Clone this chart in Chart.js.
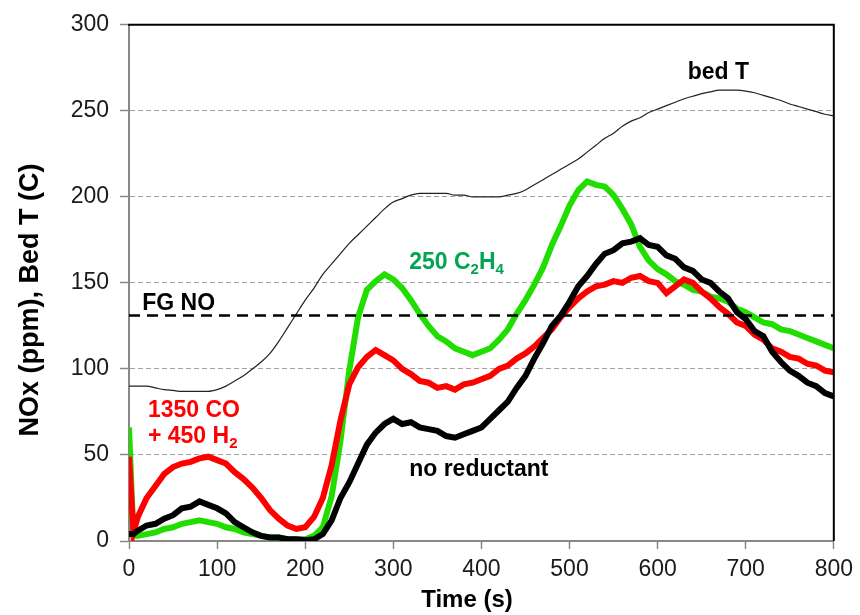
<!DOCTYPE html>
<html>
<head>
<meta charset="utf-8">
<script src="https://cdn.jsdelivr.net/npm/chart.js@4/dist/chart.umd.min.js"></script>
<style>
html,body{margin:0;padding:0;background:#fff;}
#wrap{width:860px;height:615px;}
</style>
</head>
<body>
<div id="wrap"><canvas id="c" width="860" height="615"></canvas></div>
<script>
// ---- data ----
const timeS = [0,5,10,20,30,40,50,60,70,80,90,100,110,120,130,140,150,160,170,180,190,200,
  210,220,230,240,250,260,270,280,290,300,310,320,330,340,350,360,370,380,390,400,
  410,420,430,440,450,460,470,480,490,500,510,520,530,540,550,560,570,580,590,600,
  610,620,630,640,650,660,670,680,690,700,710,720,730,740,750,760,770,780,790,800];

const noReductant = [4,4,6,9,10,13,15,19,20,23,21,19,16,11,8,5,3,2,2,1,1,0.5,
  1,4,12,25,34,45,56,63,68,71,68,69,66,65,64,61,60,62,64,66,
  71,76,81,89,96,106,115,125,131,139,148,154,161,167,169,173,174,176,172,171,
  166,164,159,157,152,150,145,141,133,129,122,119,110,104,99,96,92,90,86,84];

const coH2 = [49,5,14,25,32,39,43,45,46,48,49,47,45,40,36,31,25,18,13,9,7,8,
  14,25,44,70,91,101,107,111,108,105,100,97,93,92,89,90,88,91,92,94,
  96,100,102,106,109,113,118,123,130,136,141,145,148,149,151,150,153,154,151,150,
  144,148,152,150,145,141,136,132,127,125,120,117,112,110,107,106,103,102,99,98];

const c2h4 = [66,3,3,4,5,7,8,10,11,12,11,10,8,7,5,4,3,2,2,1,1,1,
  3,8,26,58,99,130,146,151,155,152,147,140,132,125,119,116,112,110,108,110,
  112,117,123,132,140,149,159,172,183,195,204,209,207,206,201,193,184,171,163,158,
  155,151,149,146,145,142,141,139,135,133,130,127,126,123,122,120,118,116,114,112];

const bedT = [90,90,90,90,89,88,87.5,87,87,87,87,88,90,93,96,100,104,109,116,124,132,140,
  147,155,161,167,173,178,183,188,193,197,199,201,202,202,202,202,201,201,200,200,
  200,200,201,202,204,207,210,213,216,219,222,226,230,234,237,241,244,246,249,251,
  253,255,257,258.5,260,261,262,262,262,261.5,260.5,259,257.5,256,254,252.5,251,249.5,248,247];

const fgNO = 131;
const xTicks = [0,100,200,300,400,500,600,700,800];
const yTicks = [0,50,100,150,200,250,300];

// ---- chart ----
const FONT = '"Liberation Sans", Arial, Helvetica, sans-serif';
const pts = arr => arr.map((v,i)=>({x:timeS[i], y:v}));

const textLabels = [
  {parts:[['bed T',0]], t:669, v:268.5, color:'#000', center:true},
  {parts:[['FG NO',0]], t:15, v:134.5, color:'#000'},
  {parts:[['250 C',0],['2',1],['H',0],['4',1]], t:318, v:158, color:'#00a651'},
  {parts:[['1350 CO',0]], t:21.5, v:72, color:'#ff0000'},
  {parts:[['+ 450 H',0],['2',1]], t:21.5, v:57, color:'#ff0000'},
  {parts:[['no reductant',0]], t:318, v:38, color:'#000'}
];

const decor = {
  id:'decor',
  afterDatasetsDraw(chart){
    const {ctx, chartArea:a, scales:{x,y}} = chart;
    ctx.save();
    // top and right frame
    ctx.strokeStyle = '#000'; ctx.lineWidth = 2;
    ctx.beginPath();
    ctx.moveTo(a.left-1, a.top); ctx.lineTo(a.right, a.top); ctx.lineTo(a.right, a.bottom);
    ctx.stroke();
    // annotations
    ctx.textBaseline = 'alphabetic';
    ctx.textAlign = 'left';
    for (const L of textLabels){
      const big = 'bold 23px '+FONT, small = 'bold 15px '+FONT;
      let w = 0;
      for (const [s,sub] of L.parts){ ctx.font = sub?small:big; w += ctx.measureText(s).width; }
      let px = x.getPixelForValue(L.t);
      if (L.center) px -= w/2;
      const py = y.getPixelForValue(L.v);
      ctx.fillStyle = L.color;
      for (const [s,sub] of L.parts){
        ctx.font = sub?small:big;
        ctx.fillText(s, px, py + (sub?5:0));
        px += ctx.measureText(s).width;
      }
    }
    // axis titles
    ctx.fillStyle = '#000';
    ctx.font = 'bold 24px '+FONT;
    ctx.textAlign = 'center';
    ctx.fillText('Time (s)', 467, 607);
    ctx.save();
    ctx.translate(38, 300);
    ctx.rotate(-Math.PI/2);
    ctx.font = 'bold 27px '+FONT;
    ctx.fillText('NOx (ppm), Bed T (C)', 0, 0);
    ctx.restore();
    ctx.restore();
  }
};

new Chart(document.getElementById('c'), {
  type:'line',
  data:{
    datasets:[
      {label:'FG NO', data:[{x:0,y:fgNO},{x:800,y:fgNO}], borderColor:'#000', borderWidth:2.5, borderDash:[11,7], pointRadius:0},
      {label:'no reductant', data:pts(noReductant), borderColor:'#000', borderWidth:6, pointRadius:0, tension:0},
      {label:'1350 CO + 450 H2', data:pts(coH2), borderColor:'#ff0000', borderWidth:6, pointRadius:0, tension:0},
      {label:'250 C2H4', data:pts(c2h4), borderColor:'#22dd00', borderWidth:6, pointRadius:0, tension:0},
      {label:'bed T', data:pts(bedT), borderColor:'#222', borderWidth:1.2, pointRadius:0, cubicInterpolationMode:'monotone'}
    ]
  },
  options:{
    responsive:false, animation:false, devicePixelRatio:1,
    layout:{padding:{top:24, right:25, left:0, bottom:0}},
    plugins:{legend:{display:false}, tooltip:{enabled:false}},
    scales:{
      x:{type:'linear', min:0, max:800,
        afterBuildTicks: s => { s.ticks = xTicks.map(v=>({value:v})); },
        ticks:{font:{family:FONT, size:23}, color:'#1a1a1a', padding:7, maxRotation:0},
        grid:{drawOnChartArea:false, tickLength:8, tickColor:'#888', tickWidth:1.5},
        border:{color:'#888', width:2},
        afterFit: s => { s.height = 74; }
      },
      y:{min:0, max:300,
        afterBuildTicks: s => { s.ticks = yTicks.map(v=>({value:v})); },
        ticks:{font:{family:FONT, size:23}, color:'#1a1a1a', padding:11},
        grid:{color: c => (c.tick && (c.tick.value===0 || c.tick.value===300)) ? 'rgba(0,0,0,0)' : '#a0a0a0',
              lineWidth:1, tickLength:9, tickColor:'#888', tickWidth:1.5, tickBorderDash:[]},
        border:{color:'#888', width:2, dash:[5,3]},
        afterFit: s => { s.width = 129; }
      }
    }
  },
  plugins:[decor]
});
</script>
</body>
</html>
